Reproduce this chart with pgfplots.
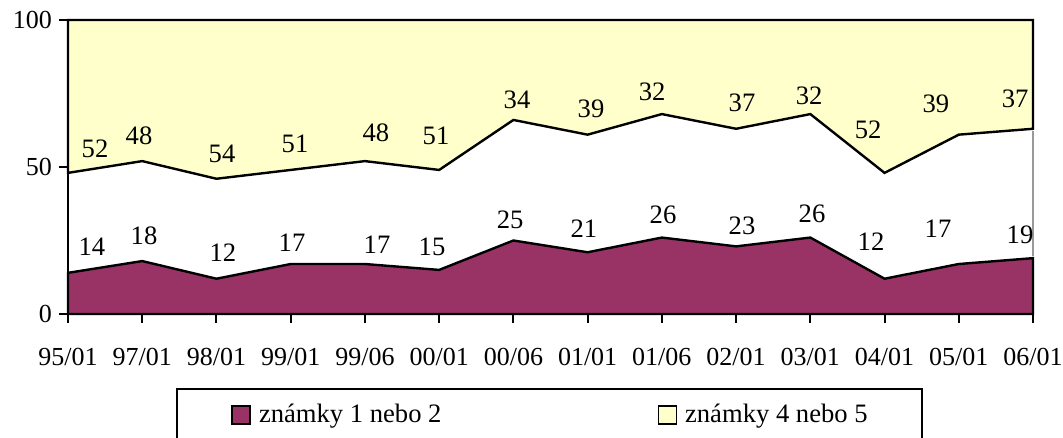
\documentclass[border=0pt]{standalone}
\usepackage{pgfplots}
\pgfplotsset{compat=1.18}
\usepackage{fontspec}
\setmainfont{Liberation Serif}
\definecolor{plum}{RGB}{153,51,102}
\definecolor{lightyel}{RGB}{255,255,204}
\begin{document}
\begin{tikzpicture}
\useasboundingbox (0,0) rectangle (531.5pt,219pt);
\begin{axis}[
  at={(34pt,62pt)}, anchor=south west,
  scale only axis, width=482.5pt, height=147pt,
  xmin=0, xmax=13, ymin=0, ymax=100,
  enlargelimits=false, clip=false,
  axis x line*=bottom, axis y line*=left,
  axis line style={line width=1pt, -},
  ytick={0,50,100},
  xtick={0,...,13},
  xticklabels={95/01,97/01,98/01,99/01,99/06,00/01,00/06,01/01,01/06,02/01,03/01,04/01,05/01,06/01},
  xticklabel style={yshift=-9pt},
  tick align=outside, major tick length=4.5pt,
  tick style={line width=1pt, black},
  font=\fontsize{13}{15.5}\selectfont,
  /pgf/number format/assume math mode=true,
  axis on top,
  legend style={at={(axis description cs:0.499,-0.2517)}, anchor=north,
    draw=black, line width=1pt, inner xsep=27pt, inner ysep=7.5pt,
    legend columns=2, font=\fontsize{13.3}{16}\selectfont,
    nodes={inner sep=0pt, anchor=west},
    /tikz/every odd column/.append style={column sep=4pt},
    /tikz/every even column/.append style={column sep=108pt}},
  legend image code/.code={\draw[#1, draw=black, line width=0.8pt] (0pt,-4.5pt) rectangle (9pt,4.5pt);},
  every node near coord/.append style={anchor=center, inner sep=0pt, font=\fontsize{13.3}{16}\selectfont, black},
]
% znamky 1 nebo 2
\addplot[fill=plum, draw=black, line width=1.2pt] coordinates {
(0,14)(1,18)(2,12)(3,17)(4,17)(5,15)(6,25)(7,21)(8,26)(9,23)(10,26)(11,12)(12,17)(13,19)
} \closedcycle;
\addlegendentry{známky 1 nebo 2}
% znamky 4 nebo 5 (drawn from 100 downward)
\addplot[fill=lightyel, draw=black, line width=1.2pt] coordinates {
(0,48)(1,52)(2,46)(3,49)(4,52)(5,49)(6,66)(7,61)(8,68)(9,63)(10,68)(11,48)(12,61)(13,63)(13,100)(0,100)
} -- cycle;
\addlegendentry{známky 4 nebo 5}
\addplot[forget plot, draw=gray!80, line width=1pt] coordinates {(13,19.6)(13,62.4)};
% labels, bottom series
\addplot[forget plot, draw=none, nodes near coords, point meta=explicit symbolic] coordinates {
(0.323,22.8)[14] (1.024,26.5)[18] (2.088,20.7)[12] (3.018,24.1)[17] (4.163,23.5)[17]
(4.904,22.8)[15] (5.955,32.0)[25] (6.951,28.9)[21] (8.016,33.7)[26] (9.080,29.9)[23]
(10.023,34.0)[26] (10.818,24.5)[12] (11.720,28.9)[17] (12.825,26.9)[19]
};
% labels, top series
\addplot[forget plot, draw=none, nodes near coords, point meta=explicit symbolic] coordinates {
(0.364,56.1)[52] (0.957,60.5)[48] (2.075,54.4)[54] (3.058,57.8)[51] (4.149,61.6)[48]
(4.958,60.5)[51] (6.049,72.8)[34] (7.046,69.7)[39] (7.868,75.5)[32] (9.080,71.8)[37]
(9.983,74.1)[32] (10.778,62.6)[52] (11.693,71.4)[39] (12.758,73.1)[37]
};
\end{axis}
\end{tikzpicture}
\end{document}
